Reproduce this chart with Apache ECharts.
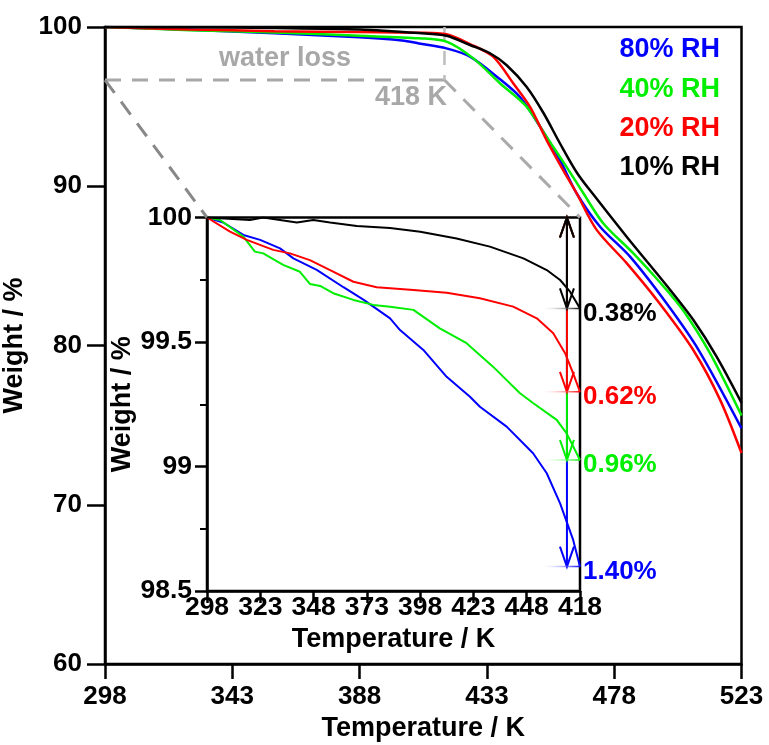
<!DOCTYPE html>
<html>
<head>
<meta charset="utf-8">
<script src="https://cdn.jsdelivr.net/npm/echarts@6/dist/echarts.min.js"></script>
<style>html,body{margin:0;padding:0;background:#fff}#c{width:769px;height:745px}</style>
</head>
<body>
<div id="c"></div>
<script>
// ---------- data ----------
const seriesNames = ['80% RH', '40% RH', '20% RH', '10% RH'];
const seriesColors = ['#0000ff', '#00ee00', '#ff0000', '#000000'];

// main chart (Temperature K, Weight %)
const mainBlue = [[298,100],[328,99.82],[358,99.6],[388,99.35],[403,99.15],[409,98.97],[418.7,98.66],[427,98.14],[436.5,96.88],[444.7,95.6],[451.8,93.74],[458.8,91.65],[464.7,89.56],[473,87.46],[483.6,85.58],[496.5,82.65],[507.9,79.7],[523,74.8]];
const mainGreen = [[298,100],[328,99.8],[358,99.66],[388,99.45],[409,99.29],[418.7,99.08],[428.2,98.03],[437.6,96.47],[447,95.0],[454.1,93.1],[461.2,91.2],[467.1,89.56],[474.1,87.68],[484.7,85.8],[494,84.0],[502.4,82.2],[511.9,79.5],[523,75.6]];
const mainRed = [[298,100],[328,99.85],[358,99.74],[388,99.68],[409,99.64],[418.7,99.54],[427,98.93],[435.2,98.14],[442.3,96.47],[448.2,95.0],[454.1,92.9],[460,91.0],[464.7,89.56],[471.8,87.26],[482.4,85.17],[494,82.65],[506,79.7],[515.4,76.6],[523,73.24]];
const mainBlack = [[298,100],[328,99.98],[358,99.94],[388,99.85],[409,99.62],[418.7,99.45],[427,98.87],[434.1,98.35],[440,97.6],[447,96.25],[453,94.6],[458.8,92.7],[465,90.8],[471.2,89.35],[482.4,86.83],[497.8,83.49],[506,81.6],[514.2,79.3],[523,76.4]];
const mainSeries = [mainBlue, mainGreen, mainRed, mainBlack];

// inset chart (298-418 K)
const insetBlue = [[298,100],[303.2,99.98],[309.7,99.93],[315.1,99.91],[321.5,99.876],[325.8,99.836],[333.3,99.79],[341.9,99.72],[348.3,99.67],[356.9,99.595],[360.1,99.548],[367.6,99.468],[375.1,99.36],[382.6,99.28],[385.8,99.24],[394.4,99.16],[402.9,99.053],[407.3,98.973],[411.6,98.852],[415.8,98.705],[418,98.598]];
const insetGreen = [[298,100],[302.2,99.99],[309.7,99.923],[313.4,99.863],[316.1,99.856],[322.5,99.81],[327.9,99.782],[331.1,99.733],[334.4,99.725],[338.6,99.696],[345.1,99.669],[351.5,99.649],[356.9,99.642],[364.4,99.629],[372.9,99.555],[381.5,99.495],[390.1,99.40],[394.4,99.347],[398.7,99.294],[403,99.254],[410.5,99.187],[413.7,99.133],[418,99.026]];
const insetRed = [[298,100],[305.4,99.943],[310.8,99.91],[319.3,99.87],[324.7,99.856],[331.1,99.829],[337.6,99.789],[345.1,99.742],[352.6,99.72],[356.9,99.716],[364.4,99.709],[375.1,99.698],[385.8,99.676],[396.5,99.642],[404.1,99.595],[409.4,99.535],[413.2,99.455],[415.8,99.374],[418,99.30]];
const insetBlack = [[298,100],[311.8,99.99],[316.1,100],[326.9,99.98],[332.2,99.99],[337.6,99.98],[346.2,99.966],[356.9,99.958],[366.6,99.943],[378.3,99.916],[389,99.883],[399.8,99.836],[407.3,99.789],[411.6,99.749],[414.8,99.702],[418,99.635]];
const insetSeries = [insetBlue, insetGreen, insetRed, insetBlack];

// tick labels
const mainXTicks = [298, 343, 388, 433, 478, 523];
const insetXTickLabels = ['298', '323', '348', '373', '398', '423', '448', '418'];

// mass-loss arrows in inset
const arrowT = 413.8;
const arrowEnds = [98.598, 99.026, 99.30, 99.635];
const arrowLabels = ['1.40%', '0.96%', '0.62%', '0.38%'];

// annotation region (main chart)
const zoomBox = { t0: 298, t1: 418, wTop: 100, wBottom: 96.67 };
const waterLossText = { t: 361.6, w: 98.05, text: 'water loss' };
const tempText = { t: 406.2, w: 95.6, text: '418 K' };

// ---------- chart ----------
const FONT = 'Liberation Sans, Arial, sans-serif';
const chart = echarts.init(document.getElementById('c'), null, { renderer: 'canvas' });

const series = [];
mainSeries.forEach((d, i) => series.push({
  name: seriesNames[i], type: 'line', xAxisIndex: 0, yAxisIndex: 0, data: d, smooth: 0.3,
  showSymbol: false, symbol: 'none', lineStyle: { color: seriesColors[i], width: 2.5 }, z: 3
}));
insetSeries.forEach((d, i) => series.push({
  name: seriesNames[i] + ' inset', type: 'line', xAxisIndex: 1, yAxisIndex: 1, data: d,
  showSymbol: false, symbol: 'none', lineStyle: { color: seriesColors[i], width: 2 }, z: 5
}));
series.push({
  type: 'custom', xAxisIndex: 1, yAxisIndex: 1, z: 6, clip: false,
  data: arrowEnds.map((e, i) => [arrowT, 100, e, i]),
  renderItem: function (params, api) {
    const i = api.value(3);
    const c = seriesColors[i];
    const pT = api.coord([api.value(0), api.value(1)]);
    const pB = api.coord([api.value(0), api.value(2)]);
    const pR = api.coord([418, api.value(2)]);
    const hw = 7, hh = 20;
    return {
      type: 'group', children: [
        { type: 'line', shape: { x1: pT[0], y1: pT[1], x2: pB[0], y2: pB[1] }, style: { stroke: c, lineWidth: 2 } },
        { type: 'polyline', shape: { points: [[pT[0] - hw, pT[1] + hh], [pT[0], pT[1]], [pT[0] + hw, pT[1] + hh]] }, style: { stroke: c, fill: null, lineWidth: 2 } },
        { type: 'polyline', shape: { points: [[pB[0] - hw, pB[1] - hh], [pB[0], pB[1]], [pB[0] + hw, pB[1] - hh]] }, style: { stroke: c, fill: null, lineWidth: 2 } },
        { type: 'line', shape: { x1: pB[0] - 26, y1: pB[1], x2: pR[0], y2: pR[1] },
          style: { lineWidth: 1.5, stroke: new echarts.graphic.LinearGradient(0, 0, 1, 0, [{ offset: 0, color: 'rgba(255,255,255,0)' }, { offset: 1, color: c }]) } },
        { type: 'text', x: pR[0] + 3, y: pR[1] + 5, style: { text: arrowLabels[i], fill: c, font: 'bold 26px ' + FONT, verticalAlign: 'middle', align: 'left' } }
      ]
    };
  }
});

const axisLbl = { color: '#000', fontWeight: 'bold', fontSize: 26, fontFamily: FONT };
const nameStyle = { color: '#000', fontWeight: 'bold', fontSize: 27, fontFamily: FONT };
const lineStyle = { color: '#000', width: 2.5 };

chart.setOption({
  animation: false,
  backgroundColor: '#fff',
  grid: [
    { left: 105, top: 27, right: 27.5, bottom: 81, outerBoundsMode: 'none', containLabel: false, show: true, borderColor: '#000', borderWidth: 2.5, backgroundColor: 'transparent', z: 0 },
    { left: 207, top: 217.5, right: 189, bottom: 154, outerBoundsMode: 'none', containLabel: false, show: true, borderColor: '#000', borderWidth: 2.5, backgroundColor: 'rgba(255,255,255,0)', z: 0 }
  ],
  xAxis: [
    { type: 'value', gridIndex: 0, min: 298, max: 523, name: 'Temperature / K', nameLocation: 'middle', nameGap: 51, nameTextStyle: nameStyle,
      axisLine: { lineStyle }, axisTick: { show: true, length: 15, lineStyle, customValues: mainXTicks, inside: false },
      axisLabel: Object.assign({ margin: 20, customValues: mainXTicks }, axisLbl), splitLine: { show: false } },
    { type: 'value', gridIndex: 1, min: 298, max: 418, show: false, position: 'bottom', splitLine: { show: false } },
    { type: 'category', gridIndex: 1, position: 'bottom', data: insetXTickLabels, boundaryGap: false, name: 'Temperature / K', nameLocation: 'middle', nameGap: 32, nameTextStyle: nameStyle,
      axisLine: { lineStyle }, axisTick: { show: true, length: 12, lineStyle, interval: 0 },
      axisLabel: Object.assign({ margin: 3, interval: 0 }, axisLbl, { fontSize: 26.5 }), splitLine: { show: false } }
  ],
  yAxis: [
    { type: 'value', gridIndex: 0, min: 60, max: 100, interval: 10, name: 'Weight / %', nameLocation: 'middle', nameGap: 65, nameTextStyle: nameStyle,
      axisLine: { show: true, lineStyle }, axisTick: { show: true, length: 18, lineStyle },
      axisLabel: Object.assign({ margin: 23 }, axisLbl), splitLine: { show: false } },
    { type: 'value', gridIndex: 1, min: 98.5, max: 100, interval: 0.5, name: 'Weight / %', nameLocation: 'middle', nameGap: 69, nameTextStyle: nameStyle,
      axisLine: { show: true, lineStyle }, axisTick: { show: true, length: 12, lineStyle },
      minorTick: { show: true, splitNumber: 2, length: 7, lineStyle: { color: '#000', width: 2 } },
      axisLabel: Object.assign({ margin: 15 }, axisLbl, { fontSize: 26.5 }), splitLine: { show: false }, minorSplitLine: { show: false } }
  ],
  series: series
});

// annotations computed through the library's coordinate conversion
const m = (t, w) => chart.convertToPixel({ xAxisIndex: 0, yAxisIndex: 0 }, [t, w]);
const ins = (t, w) => chart.convertToPixel({ xAxisIndex: 1, yAxisIndex: 1 }, [t, w]);
const pL = m(zoomBox.t0, zoomBox.wBottom), pRt = m(zoomBox.t1, zoomBox.wBottom), pV = m(zoomBox.t1, zoomBox.wTop);
const iL = ins(zoomBox.t0, 100), iR = ins(zoomBox.t1, 100);
const pW = m(waterLossText.t, waterLossText.w), pK = m(tempText.t, tempText.w);
const dash = [16, 11];
const legendTop = 50, legendGap = 39.3, legendRight = 720;
const graphics = [
  { type: 'line', shape: { x1: pL[0], y1: pL[1], x2: pRt[0], y2: pRt[1] }, style: { stroke: '#a8a8a8', lineWidth: 3, lineDash: dash }, z: 2 },
  { type: 'line', shape: { x1: pV[0], y1: pV[1], x2: pRt[0], y2: pRt[1] }, style: { stroke: '#bdbdbd', lineWidth: 2.5, lineDash: [14, 10] }, z: 2 },
  { type: 'line', shape: { x1: pL[0], y1: pL[1], x2: iL[0], y2: iL[1] }, style: { stroke: '#888888', lineWidth: 3, lineDash: dash }, z: 2 },
  { type: 'line', shape: { x1: pRt[0], y1: pRt[1], x2: iR[0], y2: iR[1] }, style: { stroke: '#aaaaaa', lineWidth: 3, lineDash: dash }, z: 2 },
  { type: 'text', x: pW[0], y: pW[1], style: { text: waterLossText.text, fill: '#a8a8a8', font: 'bold 27px ' + FONT, align: 'center', verticalAlign: 'middle' }, z: 2 },
  { type: 'text', x: pK[0], y: pK[1], style: { text: tempText.text, fill: '#a8a8a8', font: 'bold 27px ' + FONT, align: 'center', verticalAlign: 'middle' }, z: 2 }
];
seriesNames.forEach((n, i) => graphics.push({
  type: 'text', x: legendRight, y: legendTop + i * legendGap,
  style: { text: n, fill: seriesColors[i], font: 'bold 27px ' + FONT, align: 'right', verticalAlign: 'middle' }, z: 10
}));
chart.setOption({ graphic: graphics });
</script>
</body>
</html>
